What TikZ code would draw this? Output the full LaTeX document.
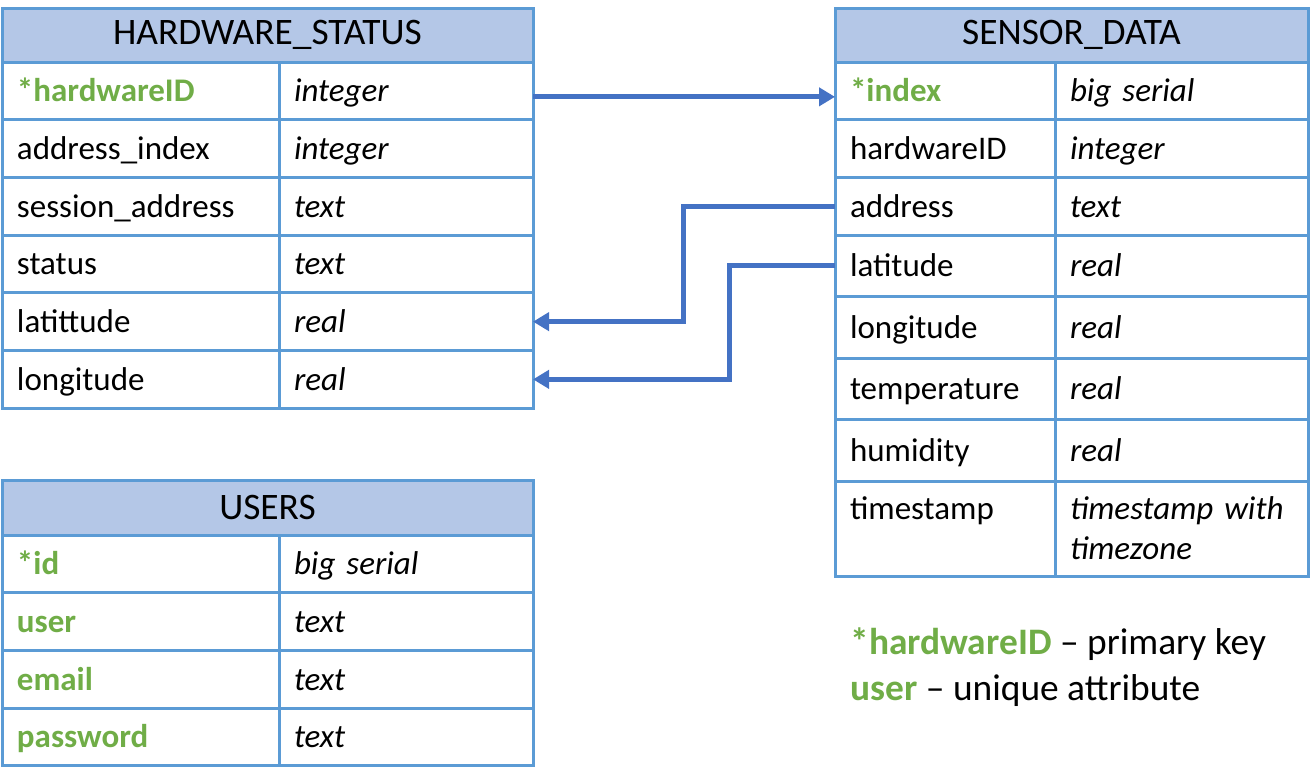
\documentclass[tikz,border=0pt]{standalone}
\usepackage{fontspec}
\setmainfont{Carlito}
\usepackage{tikz}
\usetikzlibrary{positioning}
\usetikzlibrary{arrows.meta}

\definecolor{tblblue}{HTML}{5B9BD5}
\definecolor{hdrfill}{HTML}{B4C7E7}
\definecolor{linkblue}{HTML}{4472C4}
\definecolor{keygreen}{HTML}{70AD47}

\newcommand{\pk}[1]{\textcolor{keygreen}{\bfseries #1}}
\newcommand{\cellstrut}{\rule[-4.5pt]{0pt}{20pt}}

\tikzset{
  cell/.style={draw=tblblue, line width=1.5pt, outer sep=0pt, inner xsep=7.5pt, inner ysep=0pt, align=left, execute at begin node=\cellstrut, font=\fontsize{16.5}{20}\selectfont},
  fld/.style={cell, text width=#1},
  typ/.style={cell, text width=#1, font=\fontsize{16.5}{20}\selectfont\itshape},
  hdr/.style={draw=tblblue, fill=hdrfill, line width=1.5pt, outer sep=0pt, minimum width=#1, minimum height=27pt, font=\fontsize{18.7}{22}\selectfont, anchor=north west},
  leftname/.style={fld=123.5pt, minimum height=28.85pt},
  lefttype/.style={typ=112pt, minimum height=28.85pt},
  rightname/.style={fld=95pt, minimum height=#1},
  righttype/.style={typ=111.5pt, minimum height=#1},
  link/.style={draw=linkblue, line width=2.5pt, -{Triangle[length=8pt,width=9pt]}},
}

\begin{document}
\begin{tikzpicture}[x=0.5pt, y=-0.5pt]
    \useasboundingbox (0,0) rectangle (1312,776);

    % HARDWARE_STATUS
    \node[hdr=265.5pt] (hs) at (2,8) {HARDWARE\_STATUS};
    \node[leftname, anchor=north west] (hs-f1) at (hs.south west) {\pk{*hardwareID}};
    \node[leftname, below=0pt of hs-f1] (hs-f2) {address\_index};
    \node[leftname, below=0pt of hs-f2] (hs-f3) {session\_address};
    \node[leftname, below=0pt of hs-f3] (hs-f4) {status};
    \node[leftname, below=0pt of hs-f4] (hs-f5) {latittude};
    \node[leftname, below=0pt of hs-f5] (hs-f6) {longitude};
    \node[lefttype, right=0pt of hs-f1] (hs-t1) {integer};
    \node[lefttype, right=0pt of hs-f2] (hs-t2) {integer};
    \node[lefttype, right=0pt of hs-f3] (hs-t3) {text};
    \node[lefttype, right=0pt of hs-f4] (hs-t4) {text};
    \node[lefttype, right=0pt of hs-f5] (hs-t5) {real};
    \node[lefttype, right=0pt of hs-f6] (hs-t6) {real};

    % USERS
    \node[hdr=265.5pt, minimum height=27.5pt] (us) at (2,480) {USERS};
    \node[leftname, anchor=north west] (us-f1) at (us.south west) {\pk{*id}};
    \node[leftname, below=0pt of us-f1] (us-f2) {\pk{user}};
    \node[leftname, below=0pt of us-f2] (us-f3) {\pk{email}};
    \node[leftname, below=0pt of us-f3] (us-f4) {\pk{password}};
    \node[lefttype, right=0pt of us-f1] (us-t1) {big serial};
    \node[lefttype, right=0pt of us-f2] (us-t2) {text};
    \node[lefttype, right=0pt of us-f3] (us-t3) {text};
    \node[lefttype, right=0pt of us-f4] (us-t4) {text};

    % SENSOR_DATA
    \node[hdr=236.5pt] (sd) at (835,8) {SENSOR\_DATA};
    \node[rightname=28.85pt, anchor=north west] (sd-f1) at (sd.south west) {\pk{*index}};
    \node[rightname=28.85pt, below=0pt of sd-f1] (sd-f2) {hardwareID};
    \node[rightname=28.85pt, below=0pt of sd-f2] (sd-f3) {address};
    \node[rightname=30.75pt, below=0pt of sd-f3] (sd-f4) {latitude};
    \node[rightname=30.75pt, below=0pt of sd-f4] (sd-f5) {longitude};
    \node[rightname=30.75pt, below=0pt of sd-f5] (sd-f6) {temperature};
    \node[rightname=30.75pt, below=0pt of sd-f6] (sd-f7) {humidity};
    \node[rightname=47.5pt, below=0pt of sd-f7] (sd-f8) {timestamp\\\cellstrut};
    \node[righttype=28.85pt, right=0pt of sd-f1] (sd-t1) {big serial};
    \node[righttype=28.85pt, right=0pt of sd-f2] (sd-t2) {integer};
    \node[righttype=28.85pt, right=0pt of sd-f3] (sd-t3) {text};
    \node[righttype=30.75pt, right=0pt of sd-f4] (sd-t4) {real};
    \node[righttype=30.75pt, right=0pt of sd-f5] (sd-t5) {real};
    \node[righttype=30.75pt, right=0pt of sd-f6] (sd-t6) {real};
    \node[righttype=30.75pt, right=0pt of sd-f7] (sd-t7) {real};
    \node[righttype=47.5pt, right=0pt of sd-f8] (sd-t8) {timestamp with\\timezone\cellstrut};

    % Legend
    \node[anchor=north west, inner sep=0pt, align=left, font=\fontsize{18.7}{23}\selectfont] (legend) at (850,627)
        {\pk{*hardwareID} -- primary key\\\pk{user} -- unique attribute};

    % Edges
    \draw[link] ([yshift=-3pt]hs-t1.east) -- ([yshift=-3pt]sd-f1.west);
    \draw[link] (sd-f3.west) -- ++(-152,0) |- (hs-t5.east);
    \draw[link] (sd-f4.west) -- ++(-106,0) |- (hs-t6.east);
\end{tikzpicture}
\end{document}
